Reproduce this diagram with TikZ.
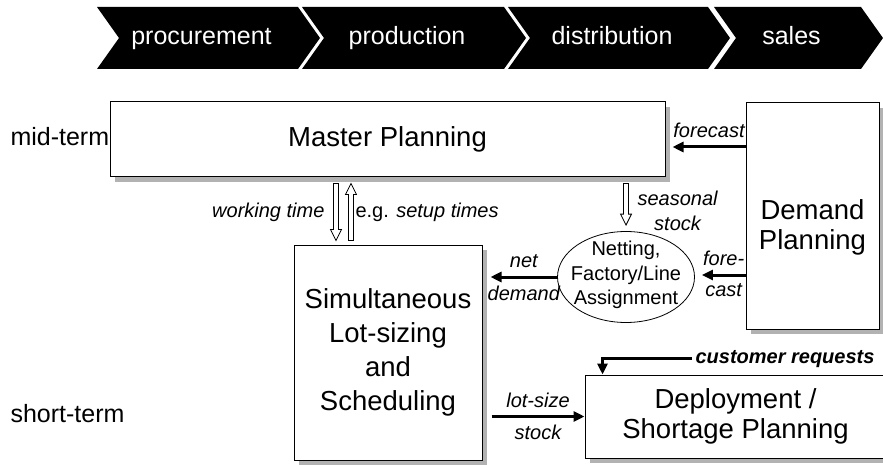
\documentclass[tikz,border=0pt]{standalone}
\usepackage{fontspec}
\setmainfont{Liberation Sans}
\usetikzlibrary{arrows.meta,shapes.geometric,shadows,calc}

\begin{document}
\begin{tikzpicture}[x=1pt,y=-1pt]
        \tikzstyle{phase}=[text=white,font=\fontsize{25}{30}\selectfont,anchor=base]
        \tikzstyle{horizon}=[font=\fontsize{25}{30}\selectfont,anchor=base west]
        \tikzstyle{box}=[draw,fill=white,line width=1pt,align=center,font=\fontsize{27.5}{30}\selectfont,
            drop shadow={shadow xshift=5pt,shadow yshift=-5pt,opacity=1,fill=gray!60}]
        \tikzstyle{boxtext}=[align=center,font=\fontsize{27.5}{30}\selectfont]
        \tikzstyle{small}=[align=center,font=\fontsize{20}{24.5}\selectfont]
        \tikzstyle{lbl}=[align=center,font=\fontsize{20}{25}\selectfont\itshape]
        \tikzstyle{flow}=[line width=3pt,-{Triangle[length=11pt,width=10pt]}]
        \tikzstyle{hollow}=[draw,fill=white,line width=0.8pt,
            to path={let \p1=(\tikztostart),\p2=(\tikztotarget),\n1={sign(\y2-\y1)} in
                ({\x1-2.5pt},\y1) -- ({\x1-2.5pt},{\y2-(\n1)*11pt}) -- ({\x1-5.5pt},{\y2-(\n1)*11pt}) -- (\x1,\y2)
                -- ({\x1+5.5pt},{\y2-(\n1)*11pt}) -- ({\x1+2.5pt},{\y2-(\n1)*11pt}) -- ({\x1+2.5pt},\y1) -- cycle}]
        \useasboundingbox (0,0) rectangle (883,465);

        \foreach \lft/\rgt/\txt [count=\i] in {97/298/procurement,302/504/production,508/708/distribution,714/861/sales}{
            \fill (\lft,7) -- (\rgt,7) -- (\rgt+22,38) -- (\rgt,69) -- (\lft,69) -- (\lft+22,38) -- cycle;
            \node[phase] (phase\i) at ({(\lft+\rgt)/2+4},45) {\txt};
        }

        \node[horizon] (midterm) at (7,146) {mid-term};
        \node[horizon] (shortterm) at (7,422) {short-term};

        \node[box,minimum width=555pt,minimum height=75pt] (master) at (387.5,139.5) {Master Planning};
        \node[box,minimum width=133pt,minimum height=226pt] (demand) at (812.5,216) {};
        \node[boxtext] (demandtxt) at (812.5,227) {Demand\\Planning};
        \node[box,font=\fontsize{27.5}{34}\selectfont,minimum width=188pt,minimum height=215pt] (sim) at (388,352.5)
            {Simultaneous\\Lot-sizing\\and\\Scheduling};
        \node[box,minimum width=301pt,minimum height=83pt] (deploy) at (735.5,416.5) {Deployment /\\Shortage Planning};
        \node[draw,ellipse,line width=0.8pt,minimum width=137pt,minimum height=91pt] (netting) at (626,277) {};
        \node[small] (nettingtxt) at (626,275) {Netting,\\Factory/Line\\Assignment};

        \draw[flow] (demand.west |- 0,147) -- ([xshift=7pt]master.east |- 0,147)
            node[lbl,midway,above=4pt] (fc) {forecast};
        \draw[flow] (demand.west |- 0,275) -- ([xshift=7pt]netting.east |- 0,275)
            node[lbl,midway,above=4pt] (fore) {fore-} node[lbl,midway,below=4pt] (cast) {cast};
        \draw[flow] (netting.west) -- ([xshift=8pt]sim.east |- netting.west)
            node[lbl,midway,above=4pt] (net) {net} node[lbl,midway,below=4pt] (dem) {demand};
        \draw[flow] ([xshift=9pt]sim.east |- deploy.west) -- (deploy.west)
            node[lbl,midway,above=4pt] (lotsize) {lot-size} node[lbl,midway,below=4pt] (lsstock) {stock};

        \node[lbl,font=\fontsize{20}{25}\selectfont\bfseries\itshape,anchor=base west] (cust) at (692,363) {customer requests};
        \draw[flow] (cust.west) -| ([xshift=18pt]deploy.north west);

        \coordinate (wtop) at ([yshift=-6pt]master.south -| 336,0);
        \coordinate (wbot) at ([yshift=4pt]sim.north -| 336,0);
        \coordinate (stop) at ([yshift=-6pt]master.south -| 351,0);
        \coordinate (sbot) at ([yshift=4pt]sim.north -| 351,0);
        \coordinate (ntop) at ([yshift=-6pt]master.south -| netting.north);
        \coordinate (nbot) at ([yshift=6pt]netting.north);
        \draw[hollow] (wtop) to (wbot);
        \draw[hollow] (sbot) to (stop);
        \draw[hollow] (ntop) to (nbot);

        \node[lbl,anchor=base east] (worktime) at (328,218) {working time};
        \node[lbl,anchor=base west,font=\fontsize{20}{25}\selectfont] (setup) at (352,218) {e.g. \textit{setup times}};
        \node[lbl,anchor=west] (seasonal) at (634,211) {seasonal\\stock};
    \end{tikzpicture}
\end{document}
